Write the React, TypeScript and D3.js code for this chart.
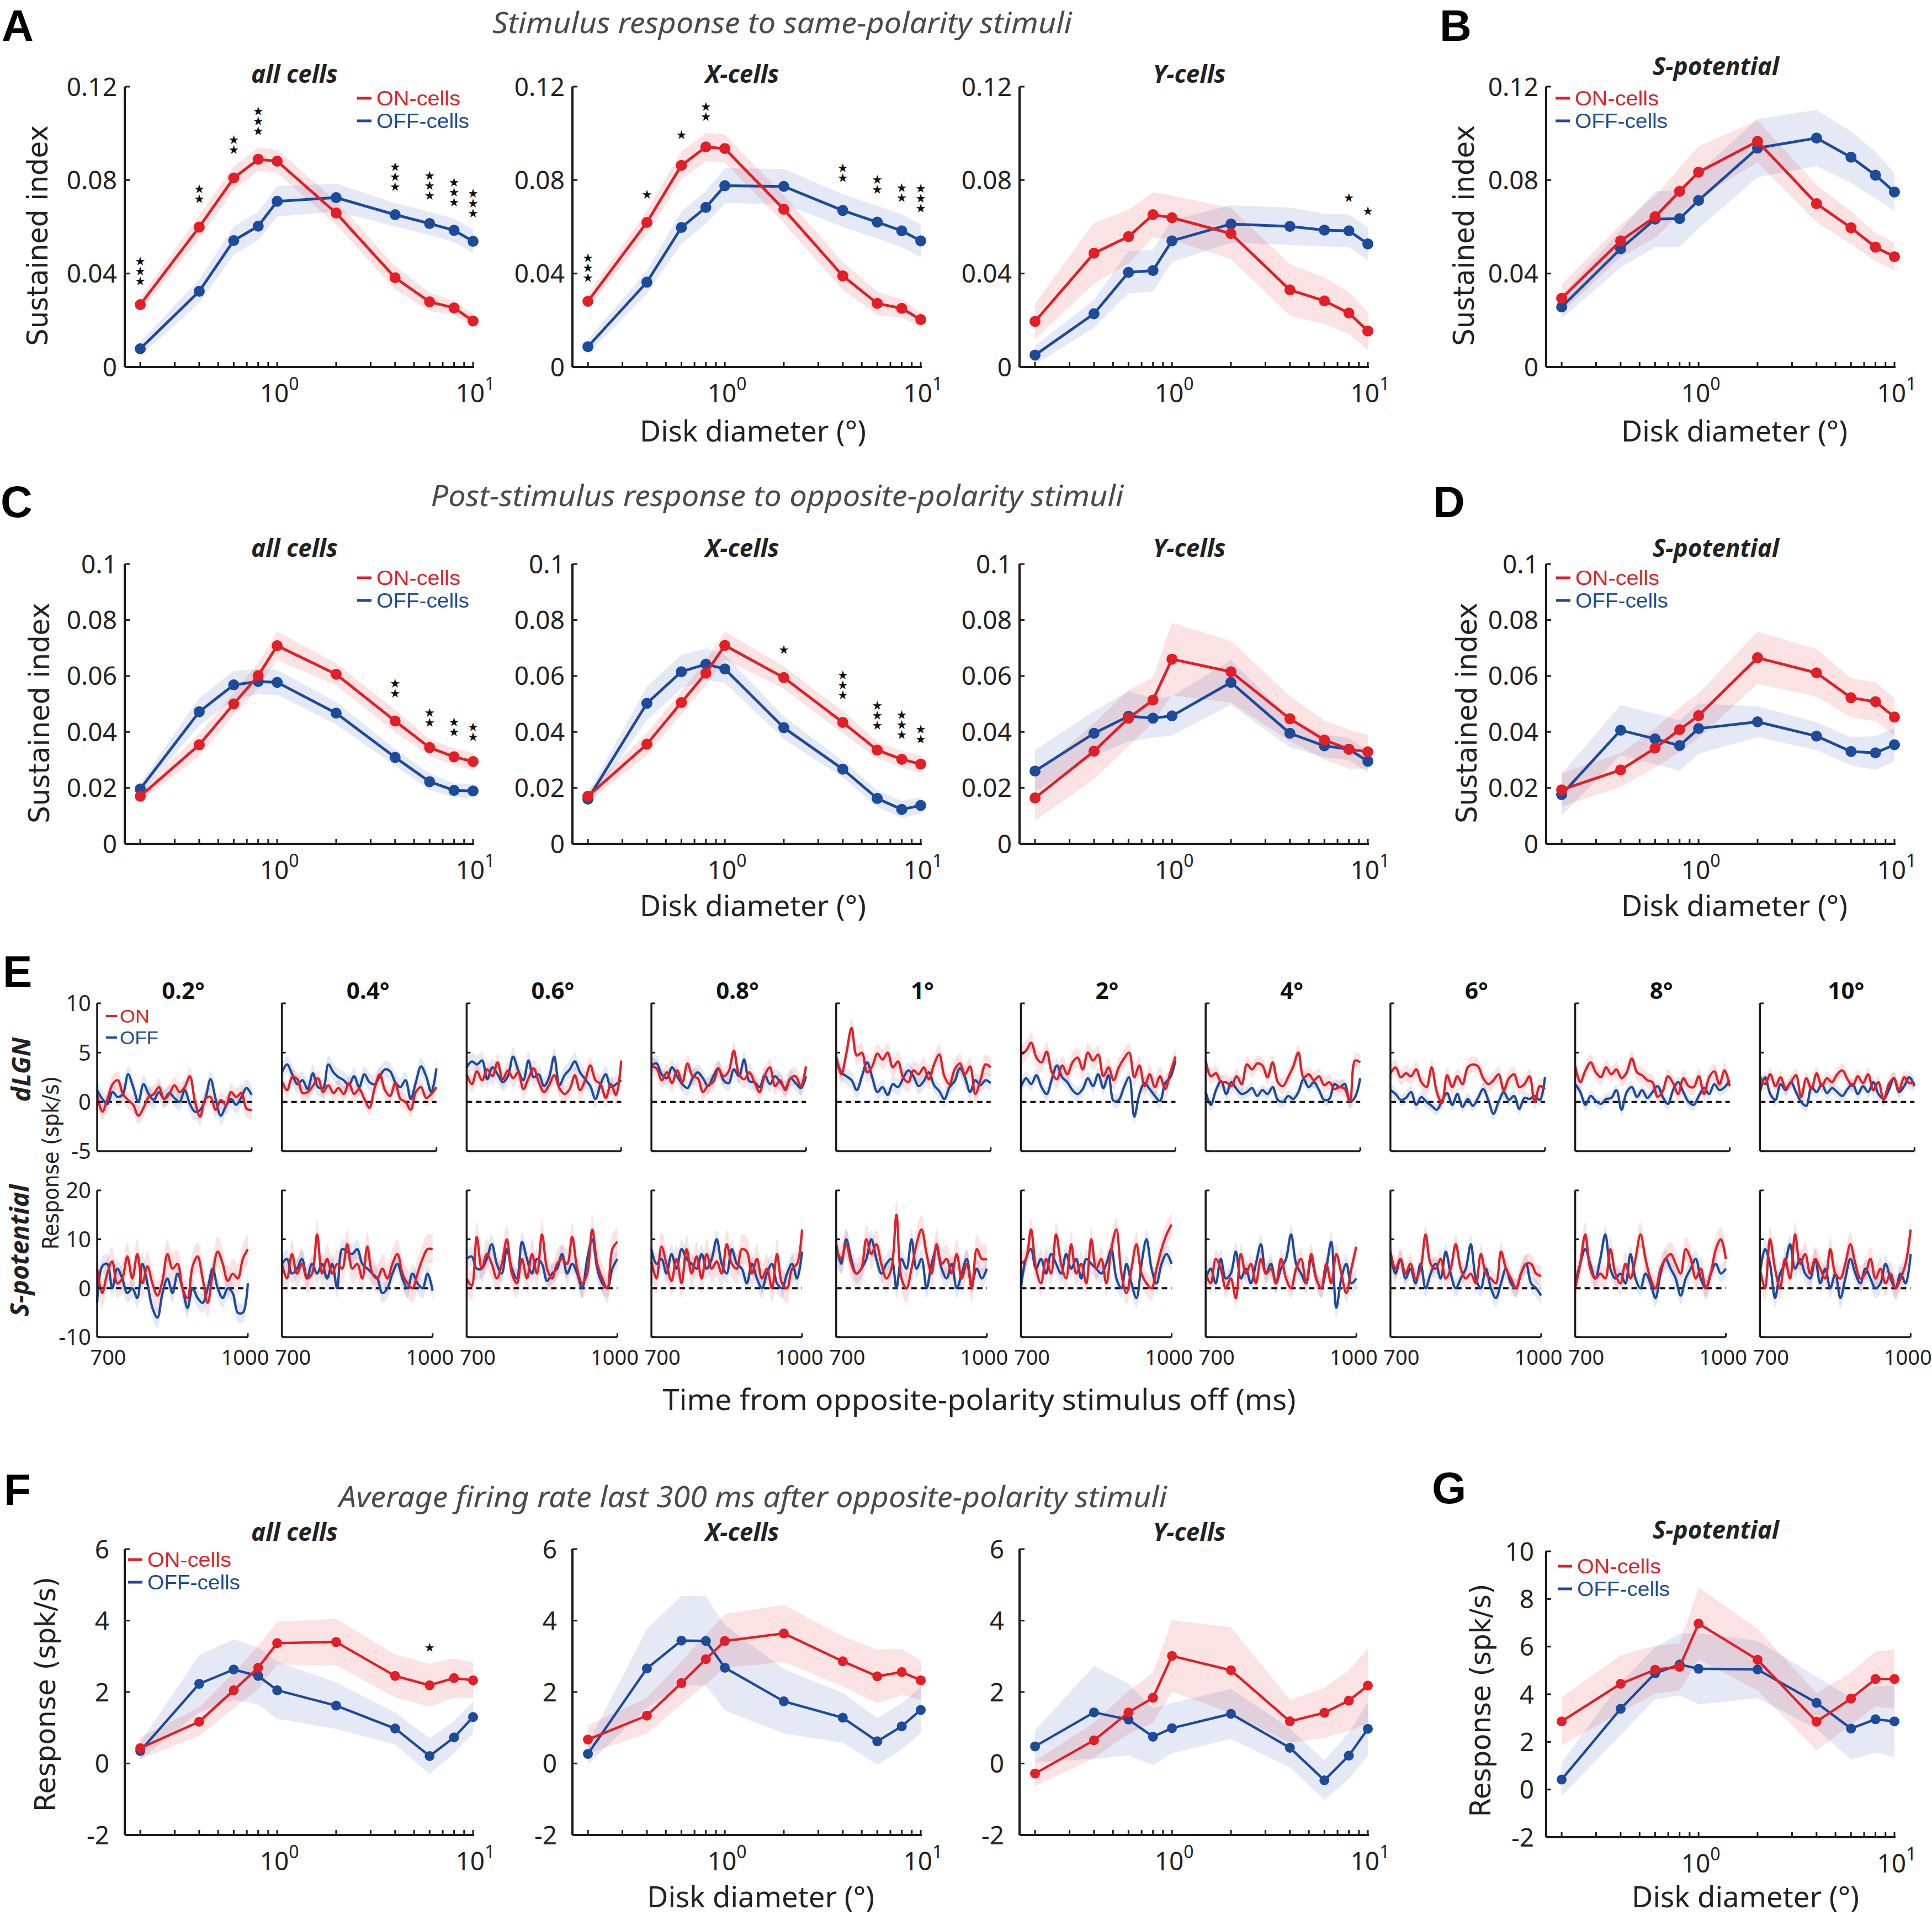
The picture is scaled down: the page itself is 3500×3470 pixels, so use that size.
import React from 'react';
import * as d3 from 'd3';

// ---------------- DATA ----------------
const diam = [0.2, 0.4, 0.6, 0.8, 1, 2, 4, 6, 8, 10];

// A: sustained index, same-polarity
const aAllOn = [0.0267, 0.0599, 0.0809, 0.0889, 0.0881, 0.0659, 0.0382, 0.0279, 0.0253, 0.0197];
const aAllOnSem = [0.003, 0.005, 0.005, 0.005, 0.005, 0.005, 0.005, 0.004, 0.003, 0.003];
const aAllOff = [0.0078, 0.0324, 0.0541, 0.0603, 0.0709, 0.0725, 0.0652, 0.0614, 0.0585, 0.0538];
const aAllOffSem = [0.003, 0.005, 0.006, 0.006, 0.0065, 0.006, 0.005, 0.005, 0.005, 0.005];
const aAllSig = ['***', '**', '**', '***', '', '', '***', '***', '***', '***'];

const aXOn = [0.0281, 0.0619, 0.0863, 0.0942, 0.0935, 0.0675, 0.039, 0.0272, 0.0251, 0.0203];
const aXOnSem = [0.003, 0.005, 0.006, 0.006, 0.006, 0.006, 0.006, 0.005, 0.004, 0.003];
const aXOff = [0.0087, 0.0363, 0.0597, 0.0683, 0.0776, 0.0773, 0.067, 0.062, 0.0583, 0.054];
const aXOffSem = [0.003, 0.005, 0.007, 0.007, 0.0075, 0.0075, 0.007, 0.007, 0.007, 0.007];
const aXSig = ['***', '*', '*', '**', '', '', '**', '**', '**', '***'];

const aYOn = [0.0195, 0.0487, 0.0558, 0.0652, 0.0639, 0.0571, 0.033, 0.0283, 0.0231, 0.0154];
const aYOnSem = [0.0077, 0.013, 0.0115, 0.0097, 0.0095, 0.011, 0.011, 0.01, 0.009, 0.008];
const aYOff = [0.0051, 0.0228, 0.0405, 0.0413, 0.054, 0.0612, 0.0602, 0.0586, 0.0583, 0.0527];
const aYOffSem = [0.004, 0.006, 0.009, 0.009, 0.009, 0.008, 0.008, 0.007, 0.007, 0.007];
const aYSig = ['', '', '', '', '', '', '', '', '*', '*'];

const bOn = [0.0294, 0.054, 0.0643, 0.0752, 0.0834, 0.0966, 0.0699, 0.0596, 0.0513, 0.0472];
const bOnSem = [0.006, 0.007, 0.009, 0.01, 0.011, 0.009, 0.008, 0.007, 0.006, 0.006];
const bOff = [0.0257, 0.0506, 0.0633, 0.0635, 0.0713, 0.0937, 0.098, 0.0898, 0.0821, 0.0749];
const bOffSem = [0.005, 0.008, 0.012, 0.012, 0.012, 0.0125, 0.012, 0.011, 0.01, 0.008];

// C: post-stimulus, opposite polarity
const cAllOn = [0.017, 0.0354, 0.05, 0.0601, 0.0708, 0.0606, 0.0439, 0.0344, 0.0311, 0.0294];
const cAllOnSem = [0.002, 0.004, 0.004, 0.0045, 0.005, 0.004, 0.004, 0.003, 0.003, 0.003];
const cAllOff = [0.0196, 0.0472, 0.0568, 0.058, 0.0577, 0.0467, 0.0309, 0.0222, 0.0191, 0.0189];
const cAllOffSem = [0.002, 0.005, 0.005, 0.0045, 0.0045, 0.004, 0.003, 0.003, 0.0025, 0.0025];
const cAllSig = ['', '', '', '', '', '', '**', '**', '**', '**'];

const cXOn = [0.017, 0.0356, 0.0505, 0.061, 0.0709, 0.0594, 0.0434, 0.0335, 0.0302, 0.0285];
const cXOnSem = [0.002, 0.004, 0.004, 0.0045, 0.005, 0.004, 0.004, 0.003, 0.003, 0.003];
const cXOff = [0.016, 0.0502, 0.0615, 0.0642, 0.0625, 0.0415, 0.0267, 0.0162, 0.0123, 0.0137];
const cXOffSem = [0.002, 0.006, 0.006, 0.0055, 0.005, 0.004, 0.003, 0.003, 0.003, 0.003];
const cXSig = ['', '', '', '', '', '*', '***', '***', '***', '**'];

const cYOn = [0.0164, 0.0331, 0.0449, 0.0514, 0.066, 0.0615, 0.0447, 0.0371, 0.0338, 0.0329];
const cYOnSem = [0.008, 0.01, 0.01, 0.008, 0.013, 0.011, 0.008, 0.007, 0.007, 0.006];
const cYOff = [0.026, 0.0395, 0.0456, 0.0449, 0.0457, 0.0577, 0.0395, 0.035, 0.0338, 0.0295];
const cYOffSem = [0.0075, 0.008, 0.009, 0.007, 0.007, 0.008, 0.005, 0.004, 0.004, 0.004];

const dOn = [0.0193, 0.0264, 0.0342, 0.0408, 0.0458, 0.0665, 0.0611, 0.0522, 0.0508, 0.0453];
const dOnSem = [0.006, 0.006, 0.007, 0.008, 0.008, 0.0093, 0.0085, 0.007, 0.007, 0.0066];
const dOff = [0.0176, 0.0406, 0.0375, 0.0351, 0.0412, 0.0436, 0.0385, 0.033, 0.0325, 0.0354];
const dOffSem = [0.0075, 0.009, 0.009, 0.009, 0.009, 0.0055, 0.005, 0.005, 0.006, 0.006];

// F: average firing rate
const fAllOn = [0.43, 1.17, 2.05, 2.68, 3.37, 3.4, 2.45, 2.19, 2.39, 2.33];
const fAllOnSem = [0.3, 0.4, 0.5, 0.6, 0.6, 0.65, 0.6, 0.6, 0.55, 0.5];
const fAllOff = [0.35, 2.23, 2.63, 2.45, 2.05, 1.62, 0.98, 0.21, 0.73, 1.3];
const fAllOffSem = [0.25, 0.8, 0.85, 0.8, 0.8, 0.65, 0.45, 0.5, 0.45, 0.45];
const fAllSig = ['', '', '', '', '', '', '', '*', '', ''];

const fXOn = [0.67, 1.34, 2.25, 2.92, 3.43, 3.64, 2.86, 2.44, 2.56, 2.33];
const fXOnSem = [0.4, 0.5, 0.6, 0.7, 0.75, 0.8, 0.7, 0.75, 0.65, 0.55];
const fXOff = [0.27, 2.66, 3.44, 3.43, 2.68, 1.74, 1.28, 0.62, 1.04, 1.5];
const fXOffSem = [0.3, 1.1, 1.25, 1.25, 1.2, 0.9, 0.7, 0.65, 0.65, 0.65];

const fYOn = [-0.28, 0.65, 1.43, 1.84, 3.01, 2.61, 1.18, 1.42, 1.76, 2.18];
const fYOnSem = [0.35, 0.5, 0.6, 0.7, 1.0, 1.2, 0.6, 0.7, 0.85, 1.05];
const fYOff = [0.48, 1.43, 1.23, 0.75, 0.99, 1.39, 0.44, -0.47, 0.22, 0.97];
const fYOffSem = [0.45, 1.3, 1.0, 0.8, 0.7, 0.7, 0.55, 0.55, 0.65, 0.75];

const gOn = [2.86, 4.44, 5.03, 5.15, 6.97, 5.45, 2.85, 3.82, 4.64, 4.64];
const gOnSem = [1.0, 1.2, 1.0, 1.0, 1.5, 1.3, 1.2, 1.1, 1.15, 1.25];
const gOff = [0.42, 3.39, 4.88, 5.25, 5.07, 5.04, 3.64, 2.56, 2.95, 2.86];
const gOffSem = [0.7, 1.1, 1.1, 1.3, 1.5, 1.2, 1.1, 1.3, 1.4, 1.5];

// E: time courses
const eTime = [700, 710, 720, 730, 740, 750, 760, 770, 780, 790, 800, 810, 820, 830, 840, 850, 860, 870, 880, 890, 900, 910, 920, 930, 940, 950, 960, 970, 980, 990, 1000];
const eLabels = ['0.2°', '0.4°', '0.6°', '0.8°', '1°', '2°', '4°', '6°', '8°', '10°'];

const eLgnOn = [
  [0.7, -1.0, 0.3, 1.8, 2.2, 0.8, 0.2, -0.3, -1.4, -0.6, 0.5, 0.8, 1.5, 0.3, 0.8, 1.7, 1.0, 1.5, 2.6, 0.0, -1.5, 0.3, 0.5, -0.8, 0.2, -0.3, 1.0, 0.5, 0.9, -0.7, -0.8],
  [2.1, 1.2, 2.5, 2.3, 0.9, 1.0, 1.6, 2.4, 1.0, 1.7, 0.9, 1.4, 0.8, 1.9, 0.8, 1.3, 0.3, -0.6, 1.4, 2.8, 1.2, 0.6, 1.9, 0.3, 0.0, -0.8, 1.0, 1.5, 0.4, 0.8, 1.5],
  [2.8, 1.8, 3.1, 2.2, 3.3, 2.6, 4.0, 2.3, 3.2, 2.4, 3.0, 1.3, 2.4, 3.4, 2.0, 1.0, 1.7, 2.7, 1.4, 0.8, 1.3, 2.7, 1.2, 2.2, 3.7, 2.2, 1.8, 0.4, 1.8, 0.7, 4.2],
  [3.6, 3.4, 2.2, 3.0, 1.9, 3.2, 2.0, 3.9, 2.6, 2.4, 1.0, 1.7, 2.0, 3.3, 2.6, 3.1, 5.2, 2.8, 2.3, 3.0, 2.0, 1.0, 2.7, 3.5, 1.6, 2.2, 1.2, 2.4, 2.6, 1.6, 3.6],
  [4.6, 2.8, 5.0, 7.5, 4.7, 5.0, 3.0, 3.6, 4.9, 4.3, 5.0, 3.5, 4.1, 2.5, 2.0, 3.2, 2.8, 3.5, 2.3, 3.8, 4.8, 2.6, 1.8, 3.3, 3.9, 2.8, 3.6, 0.8, 2.2, 3.8, 3.5],
  [4.8, 5.2, 6.0, 4.5, 4.0, 5.1, 3.0, 2.3, 3.7, 2.8, 4.0, 4.5, 3.3, 5.0, 4.2, 4.8, 2.6, 3.5, 2.2, 3.5, 4.4, 5.0, 2.5, 3.7, 1.6, 2.8, 1.5, 2.6, 1.3, 3.0, 4.6],
  [4.2, 2.6, 2.9, 2.0, 2.0, 1.6, 2.6, 1.8, 3.8, 3.3, 3.9, 3.7, 2.5, 4.0, 2.0, 1.6, 2.5, 3.6, 5.0, 2.5, 2.8, 2.2, 2.6, 1.7, 2.0, 1.3, 1.5, 1.3, 0.1, 4.2, 4.0],
  [2.9, 3.5, 2.5, 2.9, 2.6, 3.3, 2.0, 1.5, 3.5, 1.0, -0.1, 2.7, 1.5, 2.6, 1.8, 3.5, 3.8, 3.6, 2.4, 1.8, 2.2, 2.8, 1.2, 2.4, 2.8, 1.5, 1.8, 2.6, 0.0, 1.6, 1.3],
  [3.6, 2.0, 3.2, 4.0, 3.0, 2.5, 3.5, 2.8, 3.3, 2.4, 3.0, 4.4, 3.0, 2.7, 2.2, 2.0, 0.5, 1.1, 2.6, 1.9, 0.8, 2.4, 1.6, 1.5, 2.6, 0.8, 2.5, 3.1, 1.8, 3.2, 1.6],
  [2.6, 1.8, 2.8, 1.6, 2.5, 1.4, 2.0, 2.7, 0.5, 2.4, 1.3, 2.9, 1.6, 2.4, 2.0, 2.8, 3.2, 2.3, 1.6, 2.6, 1.9, 2.8, 1.2, 2.0, 0.2, 1.8, 2.4, 1.2, 2.5, 1.9, 2.0],
];
const eLgnOff = [
  [1.2, 0.3, -0.2, 1.0, 0.5, 0.8, 2.8, 1.5, 0.0, 1.8, 0.8, 0.2, 1.0, 0.3, 0.9, 0.4, 0.0, 1.2, -0.2, -1.0, -0.8, 0.3, 2.3, 0.3, -1.4, -0.4, 0.3, -0.3, 0.5, 1.4, 0.7],
  [3.0, 3.8, 2.8, 1.8, 2.2, 1.3, 2.9, 1.5, 1.4, 3.8, 3.0, 2.5, 2.2, 1.7, 2.6, 1.5, 2.8, 2.0, 1.8, 2.6, 3.3, 3.1, 2.0, 1.5, 2.2, 0.3, 2.0, 3.6, 2.6, 1.0, 3.4],
  [3.5, 4.1, 3.8, 4.2, 2.3, 3.5, 2.8, 2.0, 2.6, 4.6, 3.2, 2.2, 4.2, 2.5, 2.8, 1.6, 2.5, 4.6, 1.7, 2.7, 3.3, 4.1, 3.0, 2.3, 1.6, 0.3, 1.8, 2.8, 1.5, 1.8, 2.2],
  [3.7, 3.9, 2.8, 2.4, 3.5, 2.6, 1.8, 1.4, 2.4, 3.0, 2.4, 1.6, 2.6, 3.4, 2.2, 1.9, 3.3, 2.6, 4.3, 2.1, 2.0, 1.5, 2.7, 1.8, 2.6, 2.0, 1.4, 2.4, 1.9, 1.4, 2.6],
  [4.5, 3.0, 2.6, 2.2, 1.2, 2.6, 4.0, 2.5, 1.0, 1.5, 0.7, 1.8, 1.5, 2.4, 3.2, 2.6, 1.6, 2.1, 3.0, 1.7, 1.1, 0.3, 1.5, 2.1, 3.4, 2.5, 1.0, 2.2, 1.7, 2.2, 1.9],
  [1.5, 2.4, 1.8, 2.7, 1.5, 0.8, 2.3, 3.7, 2.5, 2.0, 1.2, 0.8, 1.3, 2.4, 1.6, 2.8, 1.4, 2.7, 0.1, 0.2, 1.5, 2.5, -1.5, 0.8, 1.9, 1.3, 0.6, 0.1, 1.9, 2.5, 4.2],
  [1.0, -0.3, 1.2, 2.1, 0.8, 2.0, 1.3, 0.8, 1.0, 1.4, 0.6, 1.2, 0.8, 1.5, 0.2, 0.0, 0.6, 0.3, 1.0, 2.3, 1.5, 2.0, 1.2, 0.2, 0.3, 1.8, 1.5, 1.8, 0.0, 0.5, 2.4],
  [1.2, 0.8, 0.2, 0.4, 1.0, -0.3, 0.5, 0.0, -0.4, -0.8, 0.1, 0.9, -0.3, 0.8, -0.5, 0.3, -0.4, 0.4, 1.3, 0.2, -1.2, 0.0, 1.0, 0.2, 0.6, -0.7, 0.4, 0.3, 0.6, 0.2, 2.5],
  [1.8, 1.0, -0.3, 0.6, 0.1, -0.2, 0.3, 0.4, 1.2, -0.8, 1.0, 1.5, 0.5, 1.2, 0.4, 1.0, 1.6, 0.5, -0.2, 1.2, 2.0, 1.0, 0.0, -0.3, 0.6, 1.4, 0.8, 1.8, 1.2, 1.5, 2.2],
  [1.0, 2.5, 0.8, 0.2, 1.8, 1.2, 2.0, 1.0, 0.0, -0.4, 1.5, 1.0, 1.8, 0.9, 1.4, 1.0, 0.6, 1.3, 1.8, 0.8, 1.6, 1.0, 2.0, 0.8, 0.3, 1.2, 2.4, 1.0, 1.6, 2.5, 1.6],
];
const eSpotOn = [
  [4, -1, 3, 5.5, 1, 2, 6.5, 2, 7, 1, 4.5, 1, -1.5, 1.5, 7, 4, 5, 0, -2, 4.5, 6.5, 2, -3, 3, 7.5, 5, 1.5, 3, 2, 6, 8],
  [5, 2, 7, 3, 5, 2, 3, 11, 3, 6, 3, 5, 4, 9, 4, 5, 2, 8.5, 3, 2, 4, 2, 5, 7, 3, 1, 0, 3, 6, 8, 8],
  [2, 0.5, 10.5, 4, 7, 5, 2, 5, 10, 3, 1, 6, 2, 7, 3, 11, 4, 2, 5, 6, 5, 10.5, 4, 1, 3, 12, 5, 2, 0, 8, 9.5],
  [5.5, 2, 8.5, 5, 1.5, 6, 1, 8, 3, 6.5, 2, 7, 4, 5.5, 3, 9, 5, 4, 8, 7.5, 3, 6, 2, 4, 0, 7, 1, 0, 4, 5, 12],
  [8, 6, 9, 5, 3, 4, 10, 7, 9, 5, 2, 4, 15, 2, 0, 4, 9, 12, 7, 3, 9, 5, 6, 3, 7, 2, 5, 0, 8, 6, 6],
  [5, 6, 12, 4, 1, 6, 3, 11, 5, 2, 9, 3, 5, 1, 10, 4, 6, 1, 8, 12, 3, -1, 4, 9, 3, 1, 0, 4, 8, 11, 13],
  [3, 1, 6, 4, 0, 2, -2, 7, 3, 5, 1, 6, 3, 4, 1, 6, 2, 0, 4, 6, 1, 7, 2, 0, 5, 1, 7, 3, -1, 4, 8.5],
  [7.5, 4, 6, 3, 5, 2, 4, 11, 5, 4, 6, 2, 4, 9, 4, 2, 3, 1, 7, 3, 2, 1, 7.5, 4, 2, 0, 3, 5, 5, 3, 2.5],
  [0, 5, 11, 4, 2, 3, 2, 8, 3, 1, 5, 2, 6, 11, 6, 2, 0, 4, 6, 7, 5, 3, 8, 6, 2, 4, 0, 3, 8, 10, 6],
  [4, 0, 10, 4, 0, 6, 2, 11, 5, 7, 3, 6, 4, 2, 8, 3, 2, 5, 9, 5, 2, 3, 6, 2, 4, 1, 3, 0, 2, 5, 12],
];
const eSpotOff = [
  [-3, 4.5, 5, 0, 4, 2, -1, 0, -2, 5, 1, -4, -6, -1, 2, -1, 3, 0, -4, 0, -2, -3, 0, 4, 0, -2, 0, -1, -5, -5, 1],
  [5, 6, 3, 4, 6, 2, 5, 3, 5, 2, 5, 0, 8, 7.5, 7, 8, 5, 4, 3, 2, -1, 0, 3, 5, 2, 0, 3, 1, 0, 3, -0.5],
  [6, 6.5, 4, 4, 6, 9, 5, 3, 8, 4, 2, 9.5, 6, 3, 6, 5, 1.5, 3, 4, 7, 3, 5, 3, 0, 6, 10, 4, 1, 0, 4, 6],
  [8, 5, 6, 3, 7, 4, 8, 6, 5, 4, 7, 4, 6, 10, 5, 3, 8, 5, 4, 1, 5, 2, 0, 3, 5, 1, 0, 3, 5, 2, 7.5],
  [9, 5, 10, 6, 3, 4, 6, 10, 6, 3, 5, 6, 0, 6, 4, 10, 4, 6, 0, 5, 8, 4, 2, 5, 0, 3, 6, 1, 4, 2, 4],
  [0, 6, 8, 4, 6, 3, 7, 5, 3, 7, 4, 6, 2, 6, 5, 4, 3, 5, 8, 2, 0, 5, 1, -2, 5, 10, 4, 1, 5, 7, 5],
  [2, 4, 1, 6, 2, 3, 7.5, 2, 4, 1, 5, 9, 3, 5, 1, 4, 6, 11, 5, 3, 1, 6, 2, 0, 4, 9.5, -4, 2, 5, 1, 2],
  [7, 3, 6, 2, 4, 1, 5, 0, 3, 5, 2, 7.5, 3, 0, 2, 4, 9, 2, 0, 4, 0, -2, 1, 4, 1, 0, 3, 5, 1, 0, -1.5],
  [1, 5, 8, 5, 2, 6, 11, 4, 2, 3, 1, 7, 2, 0, 3, 1, -2, 3, 6, 4, 2, -1.5, 2, 4, 6, 2, 0, 3, 5, 3, 4],
  [3, 8, 5, -2, 3, 5, 9, 4, 6, 3, 2, 6, 1, 4, 0, 3, -2, 2, 6, 3, 1, 4, 2, 0, 1, 5, 2, 0, 3, 1, 7],
];
const eLgnOnSem = [0.9, 0.8, 0.9, 0.9, 1.0, 1.0, 0.8, 0.8, 0.8, 0.7];
const eLgnOffSem = [0.9, 0.9, 0.9, 0.8, 0.8, 0.7, 0.6, 0.6, 0.6, 0.6];
const eSpotOnSem = [3, 3, 3, 3, 3, 2.5, 2, 2, 2.5, 2.5];
const eSpotOffSem = [2, 2, 2, 2, 2, 2, 2, 1.8, 1.8, 2];

// ---------------- STYLE / LAYOUT ----------------
const RED = '#e31e26';
const BLUE = '#1c4b9b';
const RED_BAND = 'rgba(236,70,70,0.15)';
const BLUE_BAND = 'rgba(45,85,175,0.13)';
const AX = '#1b1b1b';
const FONT = '"Noto Sans", sans-serif';
const WIDE = '"DejaVu Sans", sans-serif';
const LEGF = '"Liberation Sans", Arial, sans-serif';
const STARF = '"Noto Sans CJK JP", "Noto Sans CJK SC", sans-serif';
const PW = 631;
const XDOM = [0.1667, 10];
const LEFTS = [226, 1037, 1847, 2801];

type CurveProps = {
  left: number; top: number; bottom: number;
  yDomain: number[]; yTicks: number[]; tickGap: number;
  on: number[]; onSem: number[]; off: number[]; offSem: number[];
  sig?: string[];
  title: string; titleY: number;
  legend?: { dx: number; dy: number };
  r: number; lw: number;
};

function CurvePanel(p: CurveProps) {
  const x = d3.scaleLog().domain(XDOM).range([p.left, p.left + PW]);
  const y = d3.scaleLinear().domain(p.yDomain).range([p.bottom, p.top]);
  const idx = diam.map((_, i) => i);
  const area = (v: number[], s: number[]) =>
    d3.area<number>().x(i => x(diam[i])).y0(i => y(v[i] - s[i])).y1(i => y(v[i] + s[i]))(idx) || '';
  const line = (v: number[]) => d3.line<number>().x(i => x(diam[i])).y(i => y(v[i]))(idx) || '';
  const xt = x.ticks();
  const stars: any[] = [];
  (p.sig || []).forEach((s, i) => {
    if (!s) return;
    const top = Math.max(p.on[i] + p.onSem[i], p.off[i] + p.offSem[i]);
    const bottomEdge = y(top) - 21;
    stars.push(
      <text key={`st${i}`} x={x(diam[i])} y={bottomEdge} fontSize={18} fontFamily={STARF} fill="#111"
        textAnchor="end" writingMode="vertical-rl" style={{ textOrientation: 'upright' } as any}>
        {s.replace(/\*/g, '★')}
      </text>
    );
  });
  const lg = p.legend;
  return (
    <g>
      <path d={area(p.on, p.onSem)} fill={RED_BAND} />
      <path d={area(p.off, p.offSem)} fill={BLUE_BAND} />
      <path d={line(p.off)} fill="none" stroke={BLUE} strokeWidth={p.lw} strokeLinejoin="round" />
      {idx.map(i => <circle key={`b${i}`} cx={x(diam[i])} cy={y(p.off[i])} r={p.r} fill={BLUE} />)}
      <path d={line(p.on)} fill="none" stroke={RED} strokeWidth={p.lw} strokeLinejoin="round" />
      {idx.map(i => <circle key={`r${i}`} cx={x(diam[i])} cy={y(p.on[i])} r={p.r} fill={RED} />)}
      {stars}
      {/* axes */}
      <line x1={p.left} y1={p.top} x2={p.left} y2={p.bottom} stroke={AX} strokeWidth={4} />
      <line x1={p.left} y1={p.bottom} x2={p.left + PW + 2} y2={p.bottom} stroke={AX} strokeWidth={4} />
      {xt.map((t, i) => (
        <line key={`xt${i}`} x1={x(t)} x2={x(t)} y1={p.bottom} y2={p.bottom - 9} stroke={AX} strokeWidth={3} />
      ))}
      {p.yTicks.map((t, i) => (
        <g key={`yt${i}`}>
          <line x1={p.left} x2={p.left + 9} y1={y(t)} y2={y(t)} stroke={AX} strokeWidth={3} />
          <text x={p.left - p.tickGap} y={y(t)} dy="0.36em" textAnchor="end" fontSize={46} fill="#222">{String(t)}</text>
        </g>
      ))}
      {[1, 10].map((t, i) => (
        <text key={`xl${i}`} x={x(t) + 4} y={p.bottom + 64} textAnchor="middle" fontSize={46} fill="#222">
          10<tspan fontSize={32} dy={-22}>{i}</tspan>
        </text>
      ))}
      <text x={p.left + PW / 2 - 8} y={p.titleY} textAnchor="middle" fontSize={44} fontWeight="bold" fontStyle="italic" fill="#222">{p.title}</text>
      {lg && (
        <g>
          <line x1={p.left + lg.dx} x2={p.left + lg.dx + 26} y1={p.top + lg.dy} y2={p.top + lg.dy} stroke={RED} strokeWidth={5} />
          <text x={p.left + lg.dx + 35} y={p.top + lg.dy} dy="0.36em" fontSize={36} fontFamily={LEGF} fill={RED}
            textLength={152} lengthAdjust="spacingAndGlyphs">ON-cells</text>
          <line x1={p.left + lg.dx} x2={p.left + lg.dx + 26} y1={p.top + lg.dy + 41} y2={p.top + lg.dy + 41} stroke={BLUE} strokeWidth={5} />
          <text x={p.left + lg.dx + 35} y={p.top + lg.dy + 41} dy="0.36em" fontSize={36} fontFamily={LEGF} fill={BLUE}
            textLength={168} lengthAdjust="spacingAndGlyphs">OFF-cells</text>
        </g>
      )}
    </g>
  );
}

const E_LEFT0 = 176;
const E_STEP = 334.7;
const E_TW = 280;
const E_BW = 273;

function TracePanel({ i }: { i: number }) {
  const x0 = E_LEFT0 + i * E_STEP;
  const xt = d3.scaleLinear().domain([700, 1000]).range([x0, x0 + E_TW]);
  const xb = d3.scaleLinear().domain([700, 1000]).range([x0, x0 + E_BW]);
  const yt = d3.scaleLinear().domain([-5, 10]).range([2086, 1818]);
  const yb = d3.scaleLinear().domain([-10, 20]).range([2423, 2157]);
  const curve = d3.curveCatmullRom.alpha(0.5);
  const n = eTime.length;
  const idx = d3.range(n);
  const mk = (xs: any, ys: any, v: number[], s: number) => ({
    band: d3.area<number>().curve(curve).x(k => xs(eTime[k])).y0(k => ys(v[k] - s)).y1(k => ys(v[k] + s))(idx) || '',
    line: d3.line<number>().curve(curve).x(k => xs(eTime[k])).y(k => ys(v[k]))(idx) || '',
  });
  const tOn = mk(xt, yt, eLgnOn[i], eLgnOnSem[i]);
  const tOff = mk(xt, yt, eLgnOff[i], eLgnOffSem[i]);
  const bOn_ = mk(xb, yb, eSpotOn[i], eSpotOnSem[i]);
  const bOff_ = mk(xb, yb, eSpotOff[i], eSpotOffSem[i]);
  const topTicks = [10, 5, 0, -5];
  const botTicks = [20, 10, 0, -10];
  const LW = 4.2;
  return (
    <g>
      <text x={x0 + E_TW / 2 + 16} y={1810} textAnchor="middle" fontSize={42} fontWeight="bold" fill="#111">{eLabels[i]}</text>
      {/* top: dLGN */}
      <path d={tOn.band} fill={RED_BAND} />
      <path d={tOff.band} fill={BLUE_BAND} />
      <line x1={xt(700)} x2={xt(1000)} y1={yt(0)} y2={yt(0)} stroke="#111" strokeWidth={4} strokeDasharray="10 7" />
      <path d={tOff.line} fill="none" stroke={BLUE} strokeWidth={LW} strokeLinejoin="round" />
      <path d={tOn.line} fill="none" stroke={RED} strokeWidth={LW} strokeLinejoin="round" />
      <line x1={x0} x2={x0} y1={yt(10)} y2={yt(-5)} stroke={AX} strokeWidth={3.5} />
      <line x1={x0} x2={x0 + E_TW} y1={yt(-5)} y2={yt(-5)} stroke={AX} strokeWidth={3.5} />
      <line x1={x0 + E_TW} x2={x0 + E_TW} y1={yt(-5)} y2={yt(-5) - 7} stroke={AX} strokeWidth={3} />
      {topTicks.map((t, k) => (
        <g key={`tt${k}`}>
          <line x1={x0} x2={x0 + 7} y1={yt(t)} y2={yt(t)} stroke={AX} strokeWidth={3} />
          {i === 0 && <text x={x0 - 11} y={yt(t)} dy="0.36em" textAnchor="end" fontSize={40} fill="#222">{String(t)}</text>}
        </g>
      ))}
      {/* bottom: S-potential */}
      <path d={bOn_.band} fill={RED_BAND} />
      <path d={bOff_.band} fill={BLUE_BAND} />
      <line x1={xb(700)} x2={xb(1000)} y1={yb(0)} y2={yb(0)} stroke="#111" strokeWidth={4} strokeDasharray="10 7" />
      <path d={bOff_.line} fill="none" stroke={BLUE} strokeWidth={LW} strokeLinejoin="round" />
      <path d={bOn_.line} fill="none" stroke={RED} strokeWidth={LW} strokeLinejoin="round" />
      <line x1={x0} x2={x0} y1={yb(20)} y2={yb(-10)} stroke={AX} strokeWidth={3.5} />
      <line x1={x0} x2={x0 + E_BW} y1={yb(-10)} y2={yb(-10)} stroke={AX} strokeWidth={3.5} />
      <line x1={x0 + E_BW} x2={x0 + E_BW} y1={yb(-10)} y2={yb(-10) - 7} stroke={AX} strokeWidth={3} />
      {botTicks.map((t, k) => (
        <g key={`bt${k}`}>
          <line x1={x0} x2={x0 + 7} y1={yb(t)} y2={yb(t)} stroke={AX} strokeWidth={3} />
          {i === 0 && <text x={x0 - 11} y={yb(t)} dy="0.36em" textAnchor="end" fontSize={40} fill="#222">{String(t)}</text>}
        </g>
      ))}
      <text x={xb(700) + 20} y={2473} textAnchor="middle" fontSize={38} fill="#222">700</text>
      <text x={xb(1000) - 5} y={2473} textAnchor="middle" fontSize={38} fill="#222">1000</text>
    </g>
  );
}

function RotLabel({ x, y, text, size, len, font, weight, style }: any) {
  return (
    <text transform={`translate(${x},${y}) rotate(-90)`} textAnchor="middle" dy="0.36em" fontSize={size}
      fontFamily={font} fontWeight={weight || 'normal'} fontStyle={style || 'normal'} fill="#222"
      textLength={len} lengthAdjust={len ? 'spacingAndGlyphs' : undefined}>{text}</text>
  );
}

function Letter({ x, y, t }: any) {
  return <text x={x} y={y} fontSize={80} fontWeight="bold" fontFamily='"Liberation Sans", Arial, sans-serif' fill="#000">{t}</text>;
}

function SectionTitle({ x, y, t, len }: any) {
  return <text x={x} y={y} textAnchor="middle" fontSize={52} fontStyle="italic" fill="#4a4a4a" textLength={len} lengthAdjust="spacingAndGlyphs">{t}</text>;
}

function XLabel({ x, y, t, len }: any) {
  return <text x={x} y={y} textAnchor="middle" fontSize={52} fill="#222" textLength={len} lengthAdjust="spacingAndGlyphs">{t}</text>;
}

export default function App() {
  const rowA = { top: 157, bottom: 665, yDomain: [0, 0.12], yTicks: [0, 0.04, 0.08, 0.12], tickGap: 14, r: 10, lw: 5 };
  const rowC = { top: 1022, bottom: 1529, yDomain: [0, 0.1], yTicks: [0, 0.02, 0.04, 0.06, 0.08, 0.1], tickGap: 14, r: 10, lw: 5 };
  const rowF = { top: 2807, bottom: 3325, yDomain: [-2, 6], yTicks: [-2, 0, 2, 4, 6], tickGap: 28, r: 9, lw: 4.5 };
  const rowG = { top: 2811, bottom: 3329, yDomain: [-2, 10], yTicks: [-2, 0, 2, 4, 6, 8, 10], tickGap: 22, r: 9, lw: 4.5 };
  return (
    <svg width={3500} height={3470} viewBox="0 0 3500 3470" style={{ position: 'absolute', left: 0, top: 0, display: 'block' }} fontFamily={FONT}>
      <rect x={0} y={0} width={3500} height={3470} fill="#fff" />

      {/* Row A / B */}
      <Letter x={3} y={74} t="A" />
      <Letter x={2608} y={74} t="B" />
      <SectionTitle x={1417} y={60} t="Stimulus response to same-polarity stimuli" len={1050} />
      <CurvePanel {...rowA} left={LEFTS[0]} on={aAllOn} onSem={aAllOnSem} off={aAllOff} offSem={aAllOffSem} sig={aAllSig} title="all cells" titleY={150} legend={{ dx: 421, dy: 21 }} />
      <CurvePanel {...rowA} left={LEFTS[1]} on={aXOn} onSem={aXOnSem} off={aXOff} offSem={aXOffSem} sig={aXSig} title="X-cells" titleY={150} />
      <CurvePanel {...rowA} left={LEFTS[2]} on={aYOn} onSem={aYOnSem} off={aYOff} offSem={aYOffSem} sig={aYSig} title="Y-cells" titleY={150} />
      <CurvePanel {...rowA} left={LEFTS[3]} on={bOn} onSem={bOnSem} off={bOff} offSem={bOffSem} title="S-potential" titleY={136} legend={{ dx: 17, dy: 21 }} />
      <RotLabel x={67} y={427} text="Sustained index" size={52} len={400} font={WIDE} />
      <RotLabel x={2651} y={427} text="Sustained index" size={52} len={400} font={WIDE} />
      <XLabel x={1364} y={800} t="Disk diameter (°)" len={410} />
      <XLabel x={3142} y={800} t="Disk diameter (°)" len={410} />

      {/* Row C / D */}
      <Letter x={1} y={937} t="C" />
      <Letter x={2596} y={937} t="D" />
      <SectionTitle x={1408} y={917} t="Post-stimulus response to opposite-polarity stimuli" len={1255} />
      <CurvePanel {...rowC} left={LEFTS[0]} on={cAllOn} onSem={cAllOnSem} off={cAllOff} offSem={cAllOffSem} sig={cAllSig} title="all cells" titleY={1009} legend={{ dx: 421, dy: 25 }} />
      <CurvePanel {...rowC} left={LEFTS[1]} on={cXOn} onSem={cXOnSem} off={cXOff} offSem={cXOffSem} sig={cXSig} title="X-cells" titleY={1009} />
      <CurvePanel {...rowC} left={LEFTS[2]} on={cYOn} onSem={cYOnSem} off={cYOff} offSem={cYOffSem} title="Y-cells" titleY={1009} />
      <CurvePanel {...rowC} left={LEFTS[3]} on={dOn} onSem={dOnSem} off={dOff} offSem={dOffSem} title="S-potential" titleY={1009} legend={{ dx: 18, dy: 25 }} />
      <RotLabel x={70} y={1292} text="Sustained index" size={52} len={400} font={WIDE} />
      <RotLabel x={2656} y={1292} text="Sustained index" size={52} len={400} font={WIDE} />
      <XLabel x={1364} y={1660} t="Disk diameter (°)" len={410} />
      <XLabel x={3142} y={1660} t="Disk diameter (°)" len={410} />

      {/* Row E */}
      <Letter x={5} y={1788} t="E" />
      {eLabels.map((_, i) => <TracePanel key={i} i={i} />)}
      <line x1={192} x2={212} y1={1841} y2={1841} stroke={RED} strokeWidth={4} />
      <text x={217} y={1841} dy="0.36em" fontSize={34} fontFamily={LEGF} fill={RED} textLength={54} lengthAdjust="spacingAndGlyphs">ON</text>
      <line x1={192} x2={212} y1={1880} y2={1880} stroke={BLUE} strokeWidth={4} />
      <text x={217} y={1880} dy="0.36em" fontSize={34} fontFamily={LEGF} fill={BLUE} textLength={70} lengthAdjust="spacingAndGlyphs">OFF</text>
      <RotLabel x={38} y={1938} text="dLGN" size={46} font={FONT} weight="bold" style="italic" />
      <RotLabel x={35} y={2266} text="S-potential" size={46} font={FONT} weight="bold" style="italic" />
      <RotLabel x={92} y={2107} text="Response (spk/s)" size={40} len={314} font={WIDE} />
      <XLabel x={1774} y={2555} t="Time from opposite-polarity stimulus off (ms)" len={1147} />

      {/* Row F / G */}
      <Letter x={7} y={2727} t="F" />
      <Letter x={2594} y={2724} t="G" />
      <SectionTitle x={1364} y={2731} t="Average firing rate last 300 ms after opposite-polarity stimuli" len={1500} />
      <CurvePanel {...rowF} left={LEFTS[0]} on={fAllOn} onSem={fAllOnSem} off={fAllOff} offSem={fAllOffSem} sig={fAllSig} title="all cells" titleY={2792} legend={{ dx: 6, dy: 19 }} />
      <CurvePanel {...rowF} left={LEFTS[1]} on={fXOn} onSem={fXOnSem} off={fXOff} offSem={fXOffSem} title="X-cells" titleY={2792} />
      <CurvePanel {...rowF} left={LEFTS[2]} on={fYOn} onSem={fYOnSem} off={fYOff} offSem={fYOffSem} title="Y-cells" titleY={2792} />
      <CurvePanel {...rowG} left={LEFTS[3]} on={gOn} onSem={gOnSem} off={gOff} offSem={gOffSem} title="S-potential" titleY={2788} legend={{ dx: 21, dy: 27 }} />
      <RotLabel x={81} y={3070} text="Response (spk/s)" size={52} len={426} font={WIDE} />
      <RotLabel x={2681} y={3081} text="Response (spk/s)" size={52} len={423} font={WIDE} />
      <XLabel x={1378} y={3456} t="Disk diameter (°)" len={412} />
      <XLabel x={3162} y={3456} t="Disk diameter (°)" len={412} />
    </svg>
  );
}
